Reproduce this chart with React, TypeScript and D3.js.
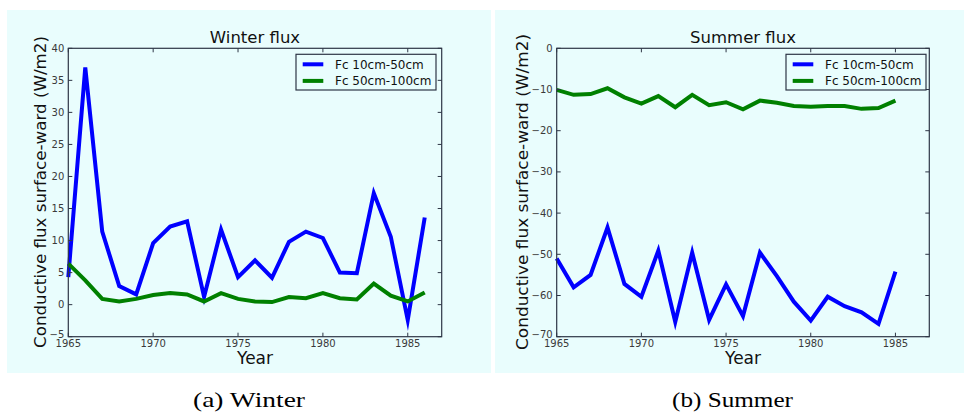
import React from "react";
import * as d3 from "d3";

const winterYears = [1965,1966,1967,1968,1969,1970,1971,1972,1973,1974,1975,1976,1977,1978,1979,1980,1981,1982,1983,1984,1985,1986];
const winterFc10_50 = [4.3,37.0,11.4,2.9,1.6,9.6,12.2,13.0,1.2,11.7,4.3,6.9,4.2,9.8,11.4,10.4,5.0,4.9,17.4,10.6,-2.4,13.6];
const winterFc50_100 = [6.4,3.8,0.9,0.5,0.9,1.5,1.8,1.6,0.5,1.8,0.9,0.5,0.4,1.2,1.0,1.8,1.0,0.8,3.3,1.4,0.5,1.9];

const summerYears = [1965,1966,1967,1968,1969,1970,1971,1972,1973,1974,1975,1976,1977,1978,1979,1980,1981,1982,1983,1984,1985];
const summerFc10_50 = [-51.0,-58.0,-55.0,-43.5,-57.2,-60.3,-49.1,-66.4,-49.6,-65.9,-57.3,-65.0,-49.6,-55.3,-61.5,-66.1,-60.3,-62.6,-64.1,-66.9,-54.2];
const summerFc50_100 = [-10.1,-11.3,-11.1,-9.7,-11.9,-13.4,-11.6,-14.3,-11.3,-13.8,-13.1,-14.8,-12.7,-13.2,-14.0,-14.2,-14.0,-14.0,-14.7,-14.5,-12.7];

const xTicks = [1965,1970,1975,1980,1985];
const winterYTicks = [-5,0,5,10,15,20,25,30,35,40];
const summerYTicks = [-70,-60,-50,-40,-30,-20,-10,0];
const seriesNames = ["Fc 10cm-50cm","Fc 50cm-100cm"];
const seriesColors = ["#0000ff","#008000"];

const BG = "#e9fdfd";
const SPINE = "#2e3646";
const TICKTXT = "#3a3a3a";

type PanelProps = {
  title: string;
  years: number[];
  s1: number[];
  s2: number[];
  yDomain: [number, number];
  yTicks: number[];
  left: number;
  right: number;
  bgX: number;
  bgW: number;
  labelX: number;
  labelLen: number;
  legendX: number;
};

function Panel(p: PanelProps) {
  const top = 48.3, bottom = 336.7;
  const x = d3.scaleLinear().domain([1965, 1987]).range([p.left, p.right]);
  const y = d3.scaleLinear().domain(p.yDomain).range([bottom, top]);
  const line = d3.line<number>().x((_, i) => x(p.years[i])).y((d) => y(d));
  const cx = (p.left + p.right) / 2;
  const tl = 4;
  const font = "'DejaVu Sans', sans-serif";
  return (
    <g>
      <rect x={p.bgX} y={10} width={p.bgW} height={363} fill={BG} />
      <path d={line(p.s1) || ""} fill="none" stroke={seriesColors[0]} strokeWidth={4} strokeLinejoin="miter" strokeMiterlimit={10} />
      <path d={line(p.s2) || ""} fill="none" stroke={seriesColors[1]} strokeWidth={4} strokeLinejoin="miter" strokeMiterlimit={10} />
      <rect x={p.left} y={top} width={p.right - p.left} height={bottom - top} fill="none" stroke={SPINE} strokeWidth={1.2} />
      {xTicks.map((t) => (
        <g key={"x" + t}>
          <line x1={x(t)} x2={x(t)} y1={bottom} y2={bottom - tl} stroke={SPINE} strokeWidth={1} />
          <line x1={x(t)} x2={x(t)} y1={top} y2={top + tl} stroke={SPINE} strokeWidth={1} />
          <text x={x(t)} y={347} textAnchor="middle" fontSize={10} fill={TICKTXT} fontFamily={font}>{t}</text>
        </g>
      ))}
      {p.yTicks.map((t) => (
        <g key={"y" + t}>
          <line x1={p.left} x2={p.left + tl} y1={y(t)} y2={y(t)} stroke={SPINE} strokeWidth={1} />
          <line x1={p.right} x2={p.right - tl} y1={y(t)} y2={y(t)} stroke={SPINE} strokeWidth={1} />
          <text x={p.left - 4} y={y(t)} dy={t === p.yDomain[0] ? "0.1em" : "0.35em"} textAnchor="end" fontSize={10} fill={TICKTXT} fontFamily={font}>{t < 0 ? "\u2212" + Math.abs(t) : t}</text>
        </g>
      ))}
      <text x={cx} y={43.3} textAnchor="middle" fontSize={16.5} fill="#111" fontFamily={font}>{p.title}</text>
      <text x={cx} y={364} textAnchor="middle" fontSize={17} fill="#111" fontFamily={font}>Year</text>
      <text transform={`translate(${p.labelX},192) rotate(-90)`} textAnchor="middle" fontSize={16} fill="#111" fontFamily={font} textLength={p.labelLen} lengthAdjust="spacingAndGlyphs">Conductive flux surface-ward (W/m2)</text>
      <g>
        <rect x={p.legendX} y={54.3} width={140} height={35.7} fill={BG} stroke={SPINE} strokeWidth={1.2} />
        {seriesNames.map((n, i) => (
          <g key={n}>
            <line x1={p.legendX + 6.7} x2={p.legendX + 27.3} y1={64.3 + i * 16.6} y2={64.3 + i * 16.6} stroke={seriesColors[i]} strokeWidth={4} />
            <text x={p.legendX + 39} y={64.3 + i * 16.6} dy="0.36em" fontSize={12} fill="#111" fontFamily={font}>{n}</text>
          </g>
        ))}
      </g>
    </g>
  );
}

export default function App() {
  const serif = "'Liberation Serif', 'Times New Roman', Times, serif";
  return (
    <svg width={964} height={414} style={{ position: "absolute", left: 0, top: 0, display: "block", background: "#fff" }}>
      <Panel title="Winter flux" years={winterYears} s1={winterFc10_50} s2={winterFc50_100} yDomain={[-5, 40]} yTicks={winterYTicks}
        left={68.3} right={441.7} bgX={7} bgW={484} labelX={46} labelLen={312} legendX={296} />
      <Panel title="Summer flux" years={summerYears} s1={summerFc10_50} s2={summerFc50_100} yDomain={[-70, 0]} yTicks={summerYTicks}
        left={556.7} right={929.3} bgX={495} bgW={469} labelX={528} labelLen={316} legendX={786} />
      <text x={249} y={407} textAnchor="middle" fontSize={22} fontFamily={serif} fill="#000" textLength={112} lengthAdjust="spacingAndGlyphs">(a)  Winter</text>
      <text x={732.5} y={407} textAnchor="middle" fontSize={22} fontFamily={serif} fill="#000" textLength={121} lengthAdjust="spacingAndGlyphs">(b)  Summer</text>
    </svg>
  );
}
